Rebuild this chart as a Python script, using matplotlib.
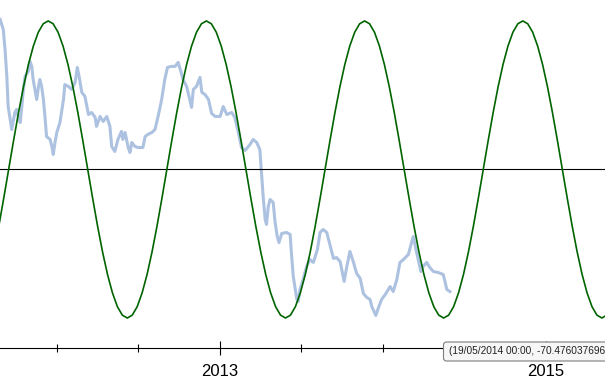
import matplotlib
matplotlib.use('Agg')
import matplotlib.pyplot as plt
import matplotlib.dates as mdates
from matplotlib.patches import FancyBboxPatch
from matplotlib.transforms import IdentityTransform
from matplotlib import font_manager
import numpy as np
import pandas as pd

base = pd.Timestamp('2012-01-01')

# measured series: days after 1 Jan 2012 and value
blue_days = [-127, -120, -116, -112, -109, -101, -94, -90, -86, -82,
             -79, -75, -71, -64, -60, -56, -53, -49, -45, -41,
             -38, -34, -30, -26, -23, -15, -11, -8, -4, 0,
             7, 15, 18, 26, 33, 41, 46, 50, 56, 63,
             71, 78, 86, 89, 97, 104, 112, 119, 123, 130,
             137, 145, 148, 153, 160, 164, 168, 175, 182, 193,
             198, 204, 213, 220, 227, 235, 242, 248, 257, 265,
             272, 278, 283, 291, 298, 302, 306, 313, 321, 325,
             332, 340, 347, 355, 366, 373, 381, 392, 399, 407,
             414, 422, 433, 440, 448, 455, 459, 463, 467, 470,
             474, 478, 485, 489, 494, 498, 504, 515, 523, 526,
             530, 538, 541, 545, 552, 560, 567, 575, 584, 590,
             597, 605, 612, 620, 627, 635, 644, 650, 657, 665,
             672, 680, 687, 695, 702, 706, 711, 715, 721, 728,
             736, 743, 747, 754, 762, 769, 777, 788, 795, 799,
             805, 810, 816, 821, 829, 836, 844, 855, 866, 870,
             874, 881]
blue_vals = [101.0, 94.3, 80.8, 62.6, 42.4, 26.9, 38.4, 40.4, 35.0, 31.6,
             40.4, 53.9, 62.6, 66.0, 72.7, 69.4, 60.6, 53.9, 47.1, 55.9,
             60.6, 55.9, 47.1, 33.7, 22.2, 20.2, 15.5, 10.1, 18.2, 24.9,
             31.6, 47.1, 57.2, 55.9, 53.9, 58.6, 68.7, 62.6, 51.9, 49.2,
             37.0, 38.4, 35.0, 29.0, 35.7, 32.3, 35.7, 29.0, 15.5, 12.1,
             20.2, 25.6, 20.2, 24.9, 14.8, 11.4, 18.2, 15.5, 14.8, 14.8,
             22.2, 23.6, 24.9, 26.9, 35.7, 47.1, 60.6, 68.7, 69.4, 69.4,
             72.1, 66.0, 60.6, 55.9, 47.1, 41.8, 53.9, 55.9, 62.0, 51.9,
             50.5, 47.1, 37.7, 35.7, 35.7, 42.4, 37.0, 38.4, 35.0, 24.9,
             14.8, 12.8, 16.8, 20.2, 18.2, 13.5, -3.4, -20.2, -33.7, -37.0,
             -24.9, -20.2, -22.2, -35.0, -45.1, -49.2, -43.1, -42.4, -43.8, -57.2,
             -72.1, -87.5, -88.9, -80.8, -74.1, -65.3, -60.6, -62.6, -53.9, -42.4,
             -40.4, -42.4, -50.5, -59.9, -59.3, -62.0, -75.4, -65.3, -55.2, -62.6,
             -70.0, -73.4, -83.5, -86.2, -87.5, -92.3, -95.6, -98.3, -92.9, -87.5,
             -84.2, -80.8, -78.8, -82.2, -74.1, -62.6, -60.6, -57.2, -49.2, -45.1,
             -53.9, -60.6, -68.7, -65.3, -62.6, -66.0, -68.7, -69.4, -70.7, -75.4,
             -80.8, -82.2]

# seasonal curve, sampled every 11.08 days starting 130.1 days before 1 Jan 2012
green_first_day = -130.1
green_step = 11.08
green_vals = [-38.3, -19.5, 0, 19.5, 38.3, 55.6, 70.7, 83.1, 92.4, 98.1,
              100, 98.1, 92.4, 83.1, 70.7, 55.6, 38.3, 19.5, 0, -19.5, -38.3, -55.6, -70.7, -83.1, -92.4, -98.1,
              -100, -98.1, -92.4, -83.1, -70.7, -55.6, -38.3, -19.5, 0, 19.5, 38.3, 55.6, 70.7, 83.1, 92.4, 98.1,
              100, 98.1, 92.4, 83.1, 70.7, 55.6, 38.3, 19.5, 0, -19.5, -38.3, -55.6, -70.7, -83.1, -92.4, -98.1,
              -100, -98.1, -92.4, -83.1, -70.7, -55.6, -38.3, -19.5, 0, 19.5, 38.3, 55.6, 70.7, 83.1, 92.4, 98.1,
              100, 98.1, 92.4, 83.1, 70.7, 55.6, 38.3, 19.5, 0, -19.5, -38.3, -55.6, -70.7, -83.1, -92.4, -98.1,
              -100, -98.1, -92.4, -83.1, -70.7, -55.6, -38.3, -19.5, 0, 19.5, 38.3, 55.6, 70.7, 83.1, 92.4, 98.1,
              100, 98.1, 92.4, 83.1, 70.7, 55.6, 38.3, 19.5, 0, -19.5, -38.3, -55.6, -70.7, -83.1, -92.4, -98.1,
              -100, -98.1]

major_years = [2013, 2015]
tooltip_text = '(19/05/2014 00:00, -70.476037696'

blue_dates = base + pd.to_timedelta(blue_days, unit='D')
green_dates = base + pd.to_timedelta(green_first_day + green_step * np.arange(len(green_vals)), unit='D')

fig = plt.figure(figsize=(6.05, 3.8), dpi=100)
ax = fig.add_axes([0, 31.7 / 380, 1, 348.3 / 380])

ax.plot(blue_dates, blue_vals, color='#adc2e0', lw=2.2, solid_joinstyle='round', zorder=2)
ax.axhline(0, color='black', lw=0.8, zorder=3)
ax.plot(green_dates, green_vals, color='#006400', lw=1.2, zorder=4)

ax.set_xlim(base + pd.Timedelta(days=-127.3), base + pd.Timedelta(days=1228.6))
ax.set_ylim(-120.4, 114.1)

for s in ['top', 'left', 'right']:
    ax.spines[s].set_visible(False)
ax.spines['bottom'].set_linewidth(0.8)
ax.set_yticks([])

ax.xaxis.set_major_locator(mdates.YearLocator(1))
ax.set_xticks([pd.Timestamp(f'{y}-01-01') for y in major_years])
ax.xaxis.set_major_formatter(mdates.DateFormatter('%Y'))
ax.xaxis.set_minor_locator(mdates.MonthLocator(bymonth=[1, 7]))
ax.tick_params(axis='x', which='major', direction='inout', length=10.5, width=0.8,
               pad=6, labelsize=12)
ax.tick_params(axis='x', which='minor', direction='inout', length=5.5, width=0.8)
for lab in ax.get_xticklabels():
    lab.set_fontfamily('Liberation Sans')

# tooltip box in pixel coordinates
names = {f.name for f in font_manager.fontManager.ttflist}
if 'Liberation Sans Narrow' in names:
    tip_font, tip_size = 'Liberation Sans Narrow', 9
else:
    tip_font, tip_size = 'Liberation Sans', 7.3

box = FancyBboxPatch((443.5, 19), 200, 19, boxstyle='round,pad=0,rounding_size=3',
                     facecolor='#f6f6f6', edgecolor='#7d7d7d', lw=0.8,
                     transform=IdentityTransform(), zorder=10)
fig.patches.append(box)
fig.text(449, 29, tooltip_text, transform=IdentityTransform(), fontsize=tip_size,
         family=tip_font, color='#222222', va='center', ha='left', zorder=11)

fig.savefig('out.png', dpi=100)
